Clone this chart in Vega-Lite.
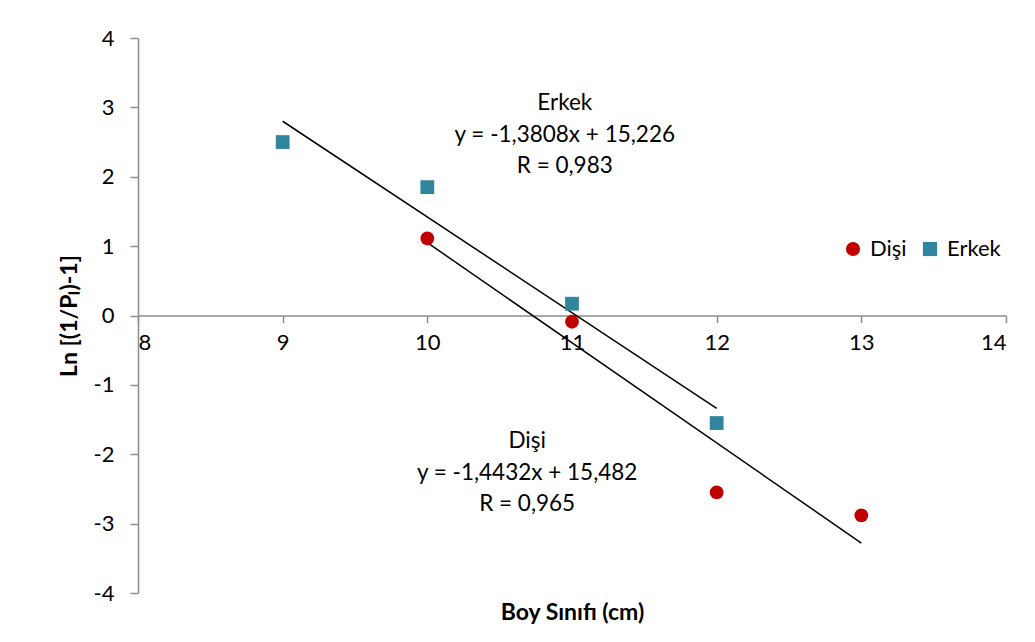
{
  "$schema": "https://vega.github.io/schema/vega-lite/v6.json",
  "width": 868,
  "height": 555,
  "autosize": "none",
  "padding": {"left": 138, "top": 38, "right": 29, "bottom": 49},
  "background": "white",
  "config": {
    "view": {"stroke": null},
    "font": "Lato",
    "axis": {"grid": false, "domainColor": "#8c8c8c", "tickColor": "#8c8c8c", "domainWidth": 1.5, "tickWidth": 1.5, "labelColor": "#000000", "labelFontSize": 22, "labelFont": "Lato", "titleFont": "Lato", "titleFontSize": 23, "titleFontWeight": "bold", "titleColor": "#000000"}
  },
  "datasets": {
    "pts": [
      {"boy": 9, "ln": 2.50, "sex": "Erkek"},
      {"boy": 10, "ln": 1.85, "sex": "Erkek"},
      {"boy": 11, "ln": 0.17, "sex": "Erkek"},
      {"boy": 12, "ln": -1.55, "sex": "Erkek"},
      {"boy": 10, "ln": 1.11, "sex": "Dişi"},
      {"boy": 11, "ln": -0.09, "sex": "Dişi"},
      {"boy": 12, "ln": -2.55, "sex": "Dişi"},
      {"boy": 13, "ln": -2.88, "sex": "Dişi"}
    ],
    "trend": [
      {"boy": 9, "ln": 2.80, "sex": "Erkek"},
      {"boy": 12, "ln": -1.34, "sex": "Erkek"},
      {"boy": 10, "ln": 1.05, "sex": "Dişi"},
      {"boy": 13, "ln": -3.28, "sex": "Dişi"}
    ],
    "notes": [
      {"boy": 10.95, "ln": 3.06, "label": ["Erkek", "y = -1,3808x + 15,226", "R = 0,983"]},
      {"boy": 10.69, "ln": -1.81, "label": ["Dişi", "y = -1,4432x + 15,482", "R = 0,965"]}
    ]
  },
  "layer": [
    {
      "data": {"name": "trend"},
      "mark": {"type": "line", "color": "#000000", "strokeWidth": 1.5},
      "encoding": {
        "x": {"field": "boy", "type": "quantitative", "scale": {"domain": [8, 14], "nice": false, "zero": false},
          "axis": {"orient": "bottom", "offset": -277.5, "values": [8, 9, 10, 11, 12, 13, 14], "tickSize": 7, "labelPadding": 10, "title": null}},
        "y": {"field": "ln", "type": "quantitative", "scale": {"domain": [-4, 4], "nice": false},
          "axis": {"values": [-4, -3, -2, -1, 0, 1, 2, 3, 4], "labelExpr": "datum.value + ''", "tickSize": 8, "labelPadding": 16, "title": "Ln [(1/Pₗ)-1]", "titlePadding": 12}},
        "detail": {"field": "sex"}
      }
    },
    {
      "data": {"name": "pts"},
      "mark": {"type": "point", "filled": true, "opacity": 1},
      "encoding": {
        "x": {"field": "boy", "type": "quantitative",
          "axis": {"orient": "bottom", "domain": false, "ticks": false, "labels": false, "title": "Boy Sınıfı (cm)", "titlePadding": 8}},
        "y": {"field": "ln", "type": "quantitative"},
        "color": {"field": "sex", "type": "nominal", "scale": {"domain": ["Dişi", "Erkek"], "range": ["#C00000", "#31859C"]},
          "legend": {"title": null, "orient": "none", "direction": "horizontal", "legendX": 704, "legendY": 200, "labelFontSize": 22, "labelFont": "Lato", "labelColor": "#000000", "symbolSize": 200, "columnPadding": 12, "labelOffset": 6}},
        "shape": {"field": "sex", "type": "nominal", "scale": {"domain": ["Dişi", "Erkek"], "range": ["circle", "square"]}},
        "size": {"value": 190}
      }
    },
    {
      "data": {"name": "notes"},
      "mark": {"type": "text", "fontSize": 22.5, "font": "Lato", "color": "#000000", "align": "center", "baseline": "middle", "lineHeight": 31.5},
      "encoding": {
        "x": {"field": "boy", "type": "quantitative", "axis": null},
        "y": {"field": "ln", "type": "quantitative"},
        "text": {"field": "label"}
      }
    }
  ],
  "resolve": {"axis": {"x": "independent"}}
}
